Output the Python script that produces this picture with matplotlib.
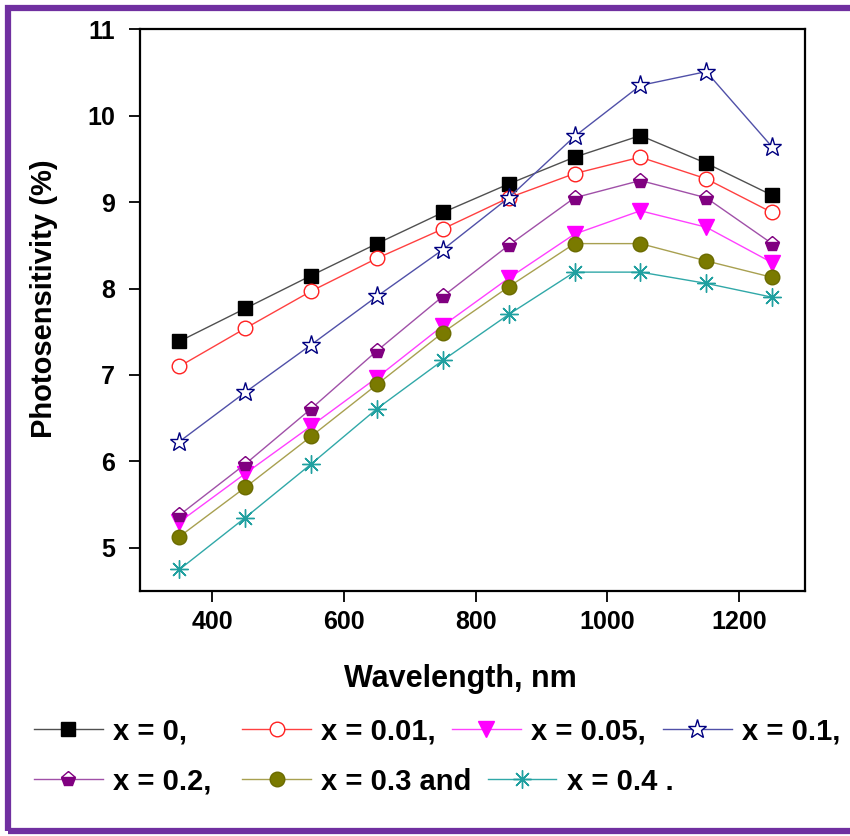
import matplotlib
matplotlib.use("Agg")
import matplotlib.pyplot as plt
from matplotlib.patches import Rectangle

plt.rcParams['font.family'] = ['Liberation Sans', 'DejaVu Sans']
plt.rcParams['font.weight'] = 'bold'

wavelength = [350, 450, 550, 650, 750, 850, 950, 1050, 1150, 1250]

ps_x0 = [7.39, 7.77, 8.15, 8.52, 8.88, 9.21, 9.52, 9.77, 9.45, 9.08]
ps_x001 = [7.10, 7.54, 7.97, 8.35, 8.69, 9.05, 9.33, 9.52, 9.27, 8.88]
ps_x005 = [5.30, 5.86, 6.41, 6.97, 7.57, 8.12, 8.63, 8.90, 8.71, 8.30]
ps_x01 = [6.23, 6.80, 7.35, 7.91, 8.45, 9.05, 9.76, 10.35, 10.51, 9.64]
ps_x02 = [5.38, 5.97, 6.61, 7.28, 7.91, 8.50, 9.05, 9.25, 9.05, 8.52]
ps_x03 = [5.13, 5.70, 6.29, 6.89, 7.49, 8.02, 8.52, 8.52, 8.32, 8.13]
ps_x04 = [4.75, 5.35, 5.97, 6.61, 7.17, 7.70, 8.19, 8.19, 8.06, 7.90]

labels = ['x = 0,', 'x = 0.01,', 'x = 0.05,', 'x = 0.1,',
          'x = 0.2,', 'x = 0.3 and', 'x = 0.4 .']

fig = plt.figure(figsize=(8.5, 8.36), dpi=100)
ax = fig.add_axes([0.1647, 0.293, 0.7823, 0.672])

# purple frame round the whole picture (right edge runs off the image)
fig.patches.append(Rectangle((0.009, 0.006), 1.2, 0.985, transform=fig.transFigure,
                             fill=False, edgecolor='#7030A0', linewidth=4.5))

styles = [
    dict(color='#505050', marker='s', mfc='black', mec='black', ms=9.5),
    dict(color='#FF4040', marker='o', mfc='white', mec='#FF2020', ms=10.5),
    dict(color='#FF40FF', marker='v', mfc='#FF00FF', mec='#FF00FF', ms=11),
    dict(color='#5050A8', marker='*', mfc='white', mec='#000080', ms=14, mew=1.0),
    dict(color='#A050A8', marker='p', mfc='#800080', mec='#800080', ms=11,
         fillstyle='bottom', markerfacecoloralt='white'),
    dict(color='#A8A050', marker='o', mfc='#7A7A00', mec='#6B6B00', ms=10.5),
    dict(color='#30A8A8', marker=(8, 2, 0), mfc='#008080', mec='#20A0A0', ms=13, mew=1.0),
]
series = [ps_x0, ps_x001, ps_x005, ps_x01, ps_x02, ps_x03, ps_x04]

handles = []
for vals, st, lab in zip(series, styles, labels):
    h, = ax.plot(wavelength, vals, lw=1.0, label=lab, **st)
    handles.append(h)

ax.set_xlim(290, 1300)
ax.set_ylim(4.5, 11)
ax.set_xticks([400, 600, 800, 1000, 1200])
ax.set_yticks([5, 6, 7, 8, 9, 10, 11])
ax.tick_params(direction='out', length=8, width=1.3, labelsize=18, pad=6,
               top=False, right=False)
ax.tick_params(axis='y', pad=10)
for lab in ax.get_xticklabels() + ax.get_yticklabels():
    lab.set_fontweight('bold')
for sp in ax.spines.values():
    sp.set_linewidth(1.6)

ax.set_xlabel('Wavelength, nm', fontsize=22, fontweight='bold')
ax.set_ylabel('Photosensitivity (%)', fontsize=21, fontweight='bold')
ax.xaxis.set_label_coords(0.482, -0.129)
ax.yaxis.set_label_coords(-0.123, 0.52)

# legend entries laid out like the reference: two rows, uneven spacing
entry_x = [0.040, 0.285, 0.532, 0.780, 0.040, 0.285, 0.574]
entry_y = [0.125, 0.125, 0.125, 0.125, 0.065, 0.065, 0.065]
for h, lab, ex, ey in zip(handles, labels, entry_x, entry_y):
    leg = fig.legend([h], [lab], loc='center left', bbox_to_anchor=(ex, ey),
                     frameon=False, handlelength=2.35, handletextpad=0.35,
                     prop=dict(size=21, weight='bold'), borderaxespad=0,
                     borderpad=0)

fig.savefig('out.png', dpi=100)
